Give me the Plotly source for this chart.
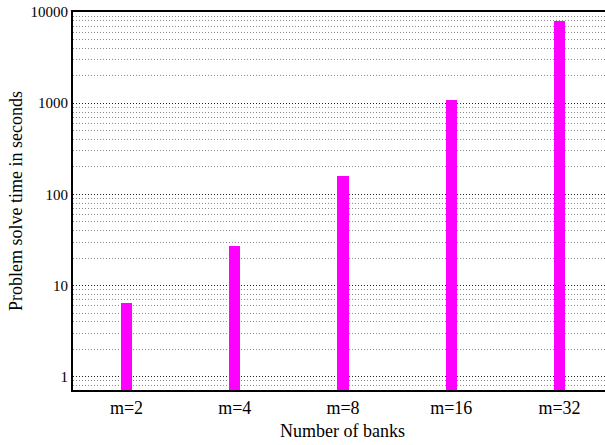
import plotly.graph_objects as go

categories = ["m=2", "m=4", "m=8", "m=16", "m=32"]
solve_times = [6.5, 27, 159, 1087, 8000]
y_tick_vals = [1, 10, 100, 1000, 10000]
y_tick_text = ["1", "10", "100", "1000", "10000"]

fig = go.Figure()
fig.add_trace(go.Bar(
    x=categories, y=solve_times,
    marker=dict(color="#ff00ff", line=dict(width=0)),
    width=0.106,
))

# plot area extends a few px past the visible window on the right, as in the reference
fig.update_layout(
    width=612, height=445,
    margin=dict(l=73, r=0, t=12, b=55),
    paper_bgcolor="white", plot_bgcolor="white",
    font=dict(family="Liberation Serif", size=15, color="black"),
    showlegend=False,
    bargap=0,
    hovermode=False,
)
fig.update_xaxes(
    type="category",
    range=[-0.494, 4.485],
    automargin=False,
    showline=True, linecolor="black", linewidth=2, mirror=True,
    ticks="", showgrid=False,
    tickfont=dict(size=18),
    title=dict(text="Number of banks", font=dict(size=18), standoff=8),
)
fig.update_yaxes(
    type="log",
    range=[-0.145, 4.0],
    automargin=False,
    tickvals=y_tick_vals, ticktext=y_tick_text,
    showline=True, linecolor="black", linewidth=2,
    ticks="",
    showgrid=True, gridcolor="#222222", griddash="1px,2px", gridwidth=1,
    minor=dict(dtick="D1", showgrid=True, gridcolor="#8a8a8a", griddash="1px,2px", gridwidth=1, ticks=""),
    tickfont=dict(size=15),
    zeroline=False,
    title=dict(text="Problem solve time in seconds", font=dict(size=18), standoff=3),
)

fig.write_html(
    "out.html",
    config={"staticPlot": True, "displayModeBar": False},
    post_script="document.body.style.margin='0';document.body.style.overflow='hidden';",
)
